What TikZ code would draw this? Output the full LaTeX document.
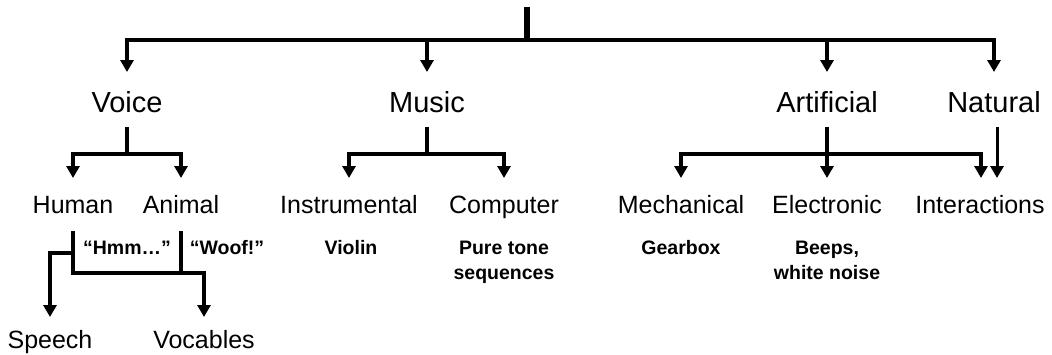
\documentclass[tikz,border=0pt]{standalone}
\usepackage{fontspec}
\setmainfont{Liberation Sans}
\usetikzlibrary{arrows.meta}
\begin{document}
\begin{tikzpicture}[x=1pt,y=-1pt,
  conn/.style={line width=4.5pt, line join=miter},
  arr/.style={conn, -{Triangle[width=13pt,length=12pt]}},
  big/.style={font=\fontsize{29}{30}\selectfont, inner sep=0pt, anchor=base},
  mid/.style={font=\fontsize{25}{26}\selectfont, inner sep=0pt, anchor=base},
  ex/.style={font=\bfseries\fontsize{19.5}{25}\selectfont, inner sep=0pt, anchor=base, align=center}]
\useasboundingbox (0,0) rectangle (1052,354);
% nodes
\node[big] (voice) at (127,112) {Voice};
\node[big] (music) at (427,112) {Music};
\node[big] (artificial) at (827,112) {Artificial};
\node[big] (natural) at (994,112) {Natural};
\node[mid] (human) at (73,213) {Human};
\node[mid] (animal) at (181,213) {Animal};
\node[mid] (instrumental) at (349,213) {Instrumental};
\node[mid] (computer) at (504,213) {Computer};
\node[mid] (mechanical) at (681,213) {Mechanical};
\node[mid] (electronic) at (827,213) {Electronic};
\node[mid] (interactions) at (980,213) {Interactions};
\node[ex] (hmm) at (127,254) {“Hmm…”};
\node[ex] (woof) at (227,254) {“Woof!”};
\node[ex] (violin) at (351,254) {Violin};
\node[ex] (puretone) at (504,279) {Pure tone\\sequences};
\node[ex] (gearbox) at (681,254) {Gearbox};
\node[ex] (beeps) at (827,279) {Beeps,\\white noise};
\node[mid] (speech) at (50,348) {Speech};
\node[mid] (vocables) at (204,348) {Vocables};
% helper coordinates
\coordinate (root) at (527,7);
\coordinate (rootj) at (527,40);
\coordinate (in1) at (0,72);
\coordinate (out1) at (0,127);
\coordinate (bar2) at (0,154);
\coordinate (in2) at (0,178);
\coordinate (out2) at (0,231);
\coordinate (sbar) at (0,253);
\coordinate (bar3) at (0,273);
\coordinate (in3) at (0,317);
% top level
\draw[conn, line width=6pt] (root) -- (rootj);
\draw[arr] (rootj) -| (voice |- in1);
\draw[arr] (rootj) -| (music |- in1);
\draw[arr] (rootj) -| (artificial |- in1);
\draw[arr] (rootj) -| (natural |- in1);
% voice
\draw[conn] (voice |- out1) -- (voice |- bar2);
\draw[arr] (voice |- bar2) -| (human |- in2);
\draw[arr] (voice |- bar2) -| (animal |- in2);
% music
\draw[conn] (music |- out1) -- (music |- bar2);
\draw[arr] (music |- bar2) -| (instrumental |- in2);
\draw[arr] (music |- bar2) -| (computer |- in2);
% artificial
\draw[arr] (artificial |- out1) -- (electronic |- in2);
\draw[arr] (artificial |- bar2) -| (mechanical |- in2);
\draw[arr] (artificial |- bar2) -| ([xshift=1pt]interactions |- in2);
% natural
\draw[arr, line width=3pt] ([xshift=3pt]natural |- out1) -- ([xshift=17pt]interactions |- in2);
% human / animal
\draw[arr] (human |- out2) |- (vocables |- bar3) -- (vocables |- in3);
\draw[arr] (human |- sbar) -| (speech |- in3);
\draw[conn] (animal |- out2) -- (animal |- bar3);
\end{tikzpicture}
\end{document}
